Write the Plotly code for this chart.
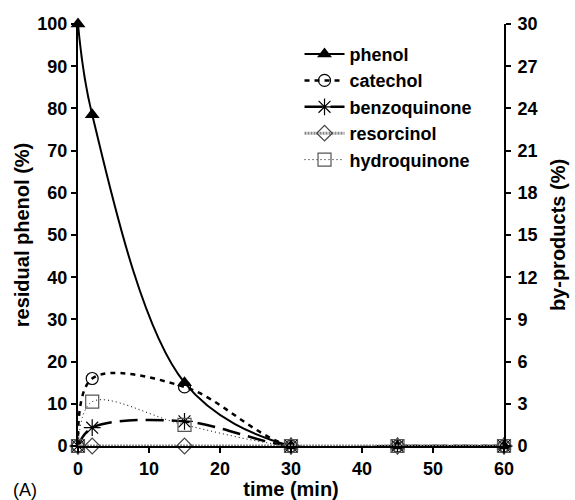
import plotly.graph_objects as go

time_min = [0, 2, 15, 30, 45, 60]
phenol = [100, 78.5, 15, 0, 0, 0]
catechol = [0, 4.8, 4.2, 0, 0, 0]
benzoquinone = [0, 1.3, 1.75, 0, 0, 0]
resorcinol = [0, 0, 0, 0, 0, 0]
hydroquinone = [0, 3.15, 1.5, 0, 0, 0]

FONT = "Liberation Sans, Arial, sans-serif"

fig = go.Figure()

fig.add_trace(go.Scatter(
    x=time_min, y=phenol, name="phenol", mode="lines+markers",
    line=dict(color="black", width=2, shape="spline", smoothing=1.0),
    marker=dict(symbol="triangle-up", size=13, color="black"),
    cliponaxis=False, yaxis="y"))
fig.add_trace(go.Scatter(
    x=time_min, y=catechol, name="catechol", mode="lines+markers",
    line=dict(color="black", width=2.5, dash="5px,5px", shape="spline", smoothing=1.0),
    marker=dict(symbol="circle-open", size=12, color="black", line=dict(width=1.2)),
    cliponaxis=False, yaxis="y2"))
fig.add_trace(go.Scatter(
    x=time_min, y=benzoquinone, name="benzoquinone", mode="lines+markers",
    line=dict(color="black", width=2.5, dash="18px,8px", shape="spline", smoothing=1.0),
    marker=dict(symbol="asterisk-open", size=14, color="black", line=dict(width=1.2, color="black")),
    cliponaxis=False, yaxis="y2"))
fig.add_trace(go.Scatter(
    x=time_min, y=resorcinol, name="resorcinol", mode="lines+markers",
    line=dict(color="#8a8a8a", width=3, dash="2px,1px"),
    marker=dict(symbol="diamond-open", size=12, color="#444444", line=dict(width=1.2)),
    cliponaxis=False, yaxis="y2"))
fig.add_trace(go.Scatter(
    x=time_min, y=hydroquinone, name="hydroquinone", mode="lines+markers",
    line=dict(color="black", width=1, dash="1px,3px", shape="spline", smoothing=1.0),
    marker=dict(symbol="square-open", size=13, color="#555555", line=dict(width=1.2)),
    cliponaxis=False, yaxis="y2"))

axis_common = dict(
    showline=True, linecolor="black", linewidth=2, ticks="outside", ticklen=5,
    tickwidth=1.5, tickcolor="black", showgrid=False, zeroline=False,
    automargin=False,
    tickfont=dict(family=FONT, size=18, color="black", weight="bold"),
)
title_font = dict(family=FONT, size=20, color="black", weight="bold")

fig.update_layout(
    width=575, height=500,
    margin=dict(l=78, r=71, t=24, b=54),
    plot_bgcolor="white", paper_bgcolor="white",
    font=dict(family=FONT, color="black"),
    xaxis=dict(range=[0, 60], dtick=10, **axis_common,
               title=dict(text="time (min)", standoff=0, font=title_font)),
    yaxis=dict(range=[0, 100], dtick=10, **axis_common,
               title=dict(text="residual phenol (%)", standoff=2, font=title_font)),
    yaxis2=dict(range=[0, 30], dtick=3, overlaying="y", side="right", **axis_common,
                ticklabelstandoff=3,
                title=dict(text="by-products (%)", standoff=14, font=title_font)),
    showlegend=True,
    legend=dict(x=0.52, y=0.972, xanchor="left", yanchor="top",
                bgcolor="rgba(0,0,0,0)", tracegroupgap=0, itemwidth=40,
                font=dict(family=FONT, size=18, color="black", weight="bold")),
    annotations=[dict(text="(A)", x=0, y=0, xref="paper", yref="paper",
                      xanchor="left", yanchor="bottom", showarrow=False,
                      font=dict(family=FONT, size=18, color="black"),
                      xshift=-67, yshift=-56)],
)

fig.write_html("out.html")
